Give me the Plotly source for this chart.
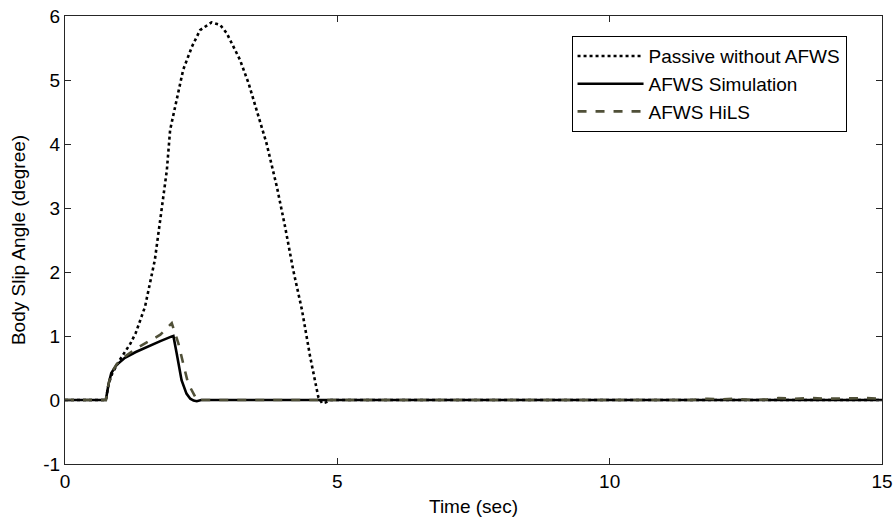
import plotly.graph_objects as go

# Passive without AFWS
t_passive = [0, 0.75, 0.8, 0.87, 1.0, 1.1, 1.2, 1.3, 1.4, 1.47, 1.65, 1.77, 1.87, 1.93, 2.05,
             2.17, 2.33, 2.48, 2.69, 2.85, 2.97, 3.09, 3.21, 3.37, 3.52, 3.70, 3.89, 4.04,
             4.19, 4.35, 4.50, 4.65, 4.72, 4.78, 4.88, 5.0, 15]
y_passive = [0, 0, 0.25, 0.42, 0.62, 0.75, 0.88, 1.05, 1.28, 1.46, 2.19, 2.97, 3.59, 4.22, 4.69,
             5.16, 5.52, 5.78, 5.90, 5.86, 5.73, 5.52, 5.32, 4.95, 4.53, 4.01, 3.33, 2.71,
             2.03, 1.41, 0.68, 0.05, -0.05, -0.04, 0, 0, 0]

# AFWS Simulation
t_sim = [0, 0.75, 0.8, 0.85, 0.95, 1.1, 1.3, 1.5, 1.75, 1.95, 1.99, 2.05, 2.14, 2.23, 2.30, 2.36, 2.42, 2.5, 15]
y_sim = [0, 0, 0.25, 0.42, 0.55, 0.66, 0.75, 0.83, 0.92, 0.99, 1.0, 0.73, 0.31, 0.10, 0.02, -0.01, -0.02, 0, 0]

# AFWS HiLS
t_hils = [0, 0.75, 0.8, 0.85, 0.95, 1.1, 1.3, 1.5, 1.75, 1.96, 2.08, 2.17, 2.26, 2.39, 2.45, 2.51, 2.6,
          11.5, 11.8, 12.0, 12.3, 12.6, 12.9, 13.1, 13.4, 13.7, 14.0, 14.4, 14.7, 15]
y_hils = [0, 0, 0.25, 0.42, 0.56, 0.68, 0.80, 0.90, 1.02, 1.20, 0.89, 0.57, 0.26, 0.05, -0.02, 0, 0,
          0, 0.02, 0.01, 0.02, 0.0, 0.01, 0.03, 0.02, 0.03, 0.02, 0.03, 0.03, 0.02]

x_ticks = [0, 5, 10, 15]
y_ticks = [-1, 0, 1, 2, 3, 4, 5, 6]
y_ticklabels = ["-1", "0", "1", "2", "3", "4", "5", "6"]

FONT = "Liberation Sans, Arial, sans-serif"
HILS_COLOR = "#505038"

fig = go.Figure()
fig.add_trace(go.Scatter(x=t_passive, y=y_passive, mode="lines", name="Passive without AFWS",
                         line=dict(color="black", width=2.6, dash="dot")))
fig.add_trace(go.Scatter(x=t_sim, y=y_sim, mode="lines", name="AFWS Simulation",
                         line=dict(color="black", width=2.6)))
fig.add_trace(go.Scatter(x=t_hils, y=y_hils, mode="lines", name="AFWS HiLS",
                         line=dict(color=HILS_COLOR, width=2.6, dash="dash")))

axis_common = dict(showline=True, linecolor="#262626", linewidth=1, mirror="ticks",
                   ticks="inside", ticklen=6, tickcolor="#262626", showgrid=False,
                   zeroline=False, automargin=False,
                   tickfont=dict(family=FONT, size=19, color="black"))

fig.update_xaxes(range=[0, 15], tickvals=x_ticks,
                 title=dict(text="Time (sec)", font=dict(family=FONT, size=19, color="black"), standoff=8),
                 **axis_common)
fig.update_yaxes(range=[-1, 6], tickvals=y_ticks, ticktext=y_ticklabels,
                 title=dict(text="Body Slip Angle (degree)", font=dict(family=FONT, size=19, color="black"), standoff=12),
                 **axis_common)

fig.update_layout(
    width=895, height=519,
    margin=dict(l=65, r=13, t=16, b=55),
    paper_bgcolor="white", plot_bgcolor="white",
    font=dict(family=FONT, size=19, color="black"),
    legend=dict(x=0.62, xanchor="left", y=0.955, yanchor="top",
                bgcolor="white", bordercolor="black", borderwidth=1,
                font=dict(family=FONT, size=19, color="black"), itemwidth=66),
    showlegend=True,
)

fig.write_html("out.html")
